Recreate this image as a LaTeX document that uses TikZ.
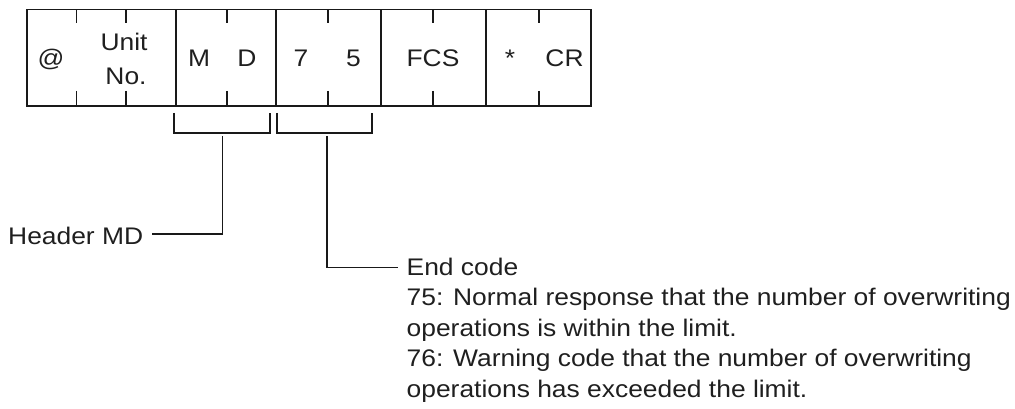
\documentclass[tikz,border=0pt]{standalone}
\usepackage{fontspec}
\setmainfont{Liberation Sans}[FakeStretch=1.1]
\begin{document}
\begin{tikzpicture}[x=1pt,y=-1pt,
  frame/.style={line width=1.7pt, draw=black!90},
  conn/.style={line width=1.5pt, draw=black!90},
  lbl/.style={inner sep=0pt, text=black!88, font=\fontsize{24}{30.5}\selectfont},
  celltxt/.style={lbl, anchor=base}]
\useasboundingbox (0,0) rectangle (1015,409);
% frame
\draw[frame] (27,9.5) rectangle (591,106);
\foreach \x in {176,276,381,486} \draw[frame] (\x,9.5) -- (\x,106);
\foreach \x in {76.5,126,227,328,433,539} {
  \draw[frame] (\x,9.5) -- (\x,23);
  \draw[frame] (\x,91) -- (\x,106);
}
% cell texts
\node[celltxt] (at) at (51,66.5) {@};
\node[lbl, align=center, anchor=base, font=\fontsize{24}{34}\selectfont] (unit) at (124,84.3) {Unit\\\hspace*{4pt}No.};
\node[celltxt] (m) at (199,66.5) {M};
\node[celltxt] (d) at (247,66.5) {D};
\node[celltxt] (seven) at (301,66.5) {7};
\node[celltxt] (five) at (353.5,66.5) {5};
\node[celltxt] (fcs) at (433,66.5) {FCS};
\node[celltxt] (star) at (510,66.5) {*};
\node[celltxt] (cr) at (564.5,66.5) {CR};
% brackets
\draw[conn] (174,113) -- (174,133) -- (270,133) -- (270,113);
\draw[conn] (277,113) -- (277,133) -- (372,133) -- (372,113);
\coordinate (b1) at (222.7,136);
\coordinate (b2) at (327,136);
% labels
\node[lbl, anchor=base west] (hdr) at (8,244.3) {Header MD};
\coordinate (h1) at (151.7,234);
\draw[conn] (b1) |- (h1);
\node[lbl, anchor=base west, align=left] (endc) at (406.5,397.3)
  {End code\\
   75: Normal response that the number of overwriting\\
   operations is within the limit.\\
   76: Warning code that the number of overwriting\\
   operations has exceeded the limit.};
\coordinate (e1) at (398,267.7);
\draw[conn] (b2) |- (e1);
\end{tikzpicture}
\end{document}
